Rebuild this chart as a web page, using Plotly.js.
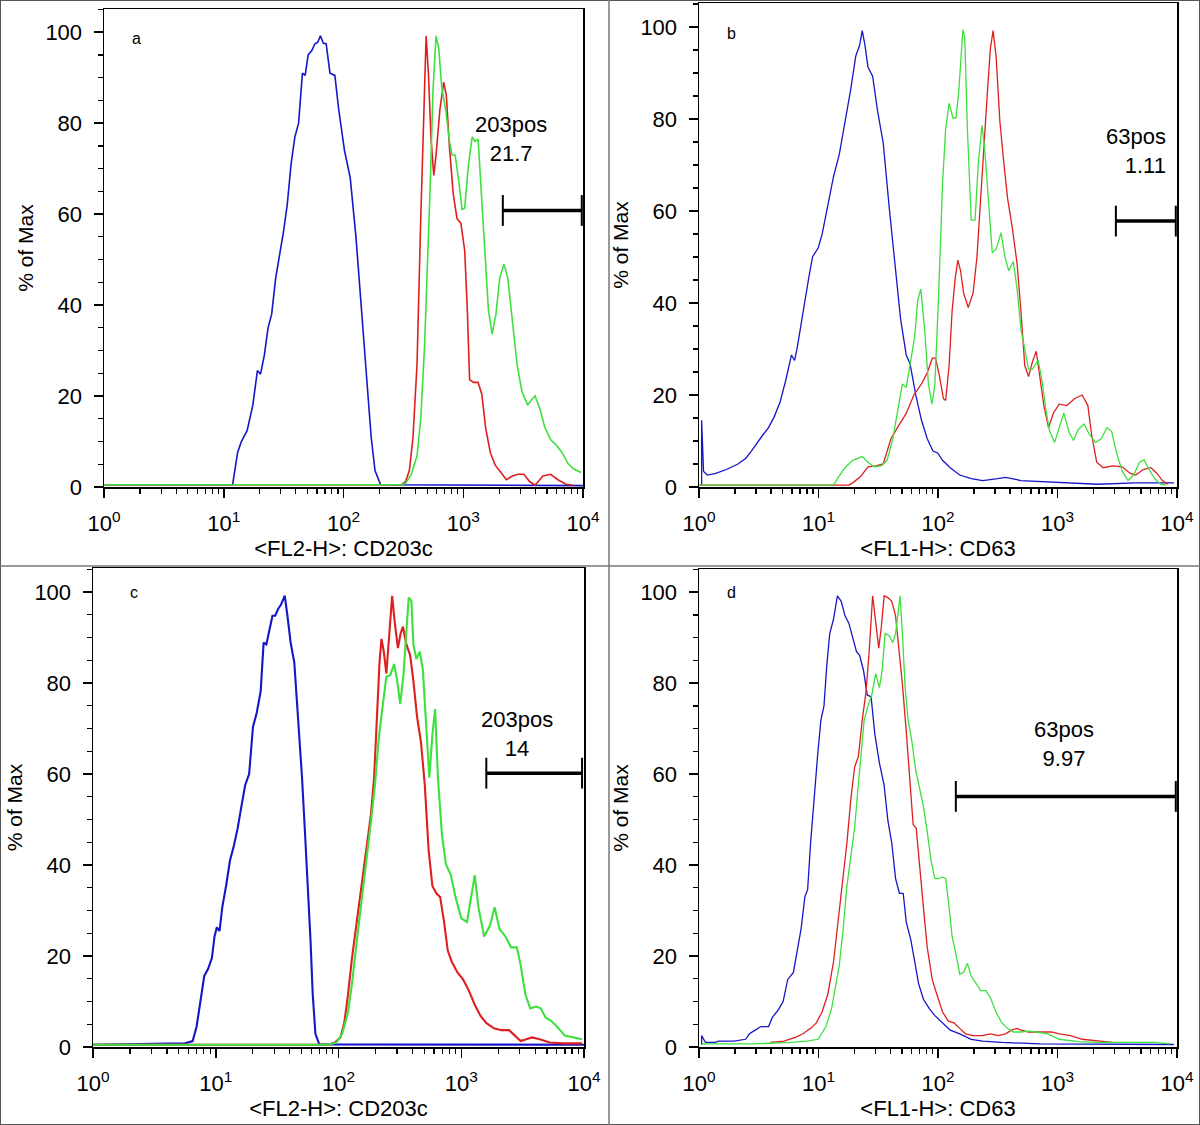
<!DOCTYPE html>
<html>
<head>
<meta charset="utf-8">
<script src="https://cdn.plot.ly/plotly-3.0.1.min.js"></script>
<style>html,body{margin:0;padding:0;background:#fff;}#chart{width:1200px;height:1125px;}</style>
</head>
<body>
<div id="chart"></div>
<script>
// x values are read as log10(fluorescence intensity); y values are % of Max
// ---- Panel a (CD203c) ----
const aBlueLog = [0, 1.074, 1.116, 1.147, 1.195, 1.243, 1.281, 1.307, 1.339, 1.37, 1.40, 1.434, 1.466, 1.498, 1.53, 1.562, 1.594, 1.625, 1.657, 1.68, 1.705, 1.737, 1.76, 1.785, 1.807, 1.833, 1.855, 1.887, 1.928, 1.96, 2.008, 2.056, 2.104, 2.151, 2.2, 2.231, 2.263, 2.31, 4];
const aBlueY = [0.5, 0.5, 7.6, 10, 12.4, 18, 25.6, 24.8, 29, 35, 38, 46, 51, 56, 62, 71, 77, 80, 91, 90.5, 95, 96, 97.4, 97.8, 99.2, 97.5, 97.5, 91, 90.5, 83, 74, 68, 55, 39, 21, 11, 3.6, 0.5, 0.3];
const aRedLog = [0, 2.486, 2.518, 2.55, 2.58, 2.614, 2.645, 2.67, 2.69, 2.709, 2.731, 2.754, 2.773, 2.805, 2.837, 2.859, 2.884, 2.916, 2.948, 2.98, 3.012, 3.034, 3.053, 3.085, 3.124, 3.155, 3.187, 3.226, 3.267, 3.315, 3.36, 3.41, 3.458, 3.506, 3.554, 3.6, 3.665, 3.73, 3.79, 3.857, 3.92];
const aRedY = [0.5, 0.5, 1.2, 3.6, 10.8, 27, 59, 83, 99.2, 91, 76.5, 68.5, 73, 83, 89, 86, 75, 64.5, 59, 58, 52, 39, 23.6, 23, 23, 20.4, 13, 7.6, 4.8, 3.2, 1.6, 2.4, 2.8, 2.8, 1.2, 0.4, 2.4, 2.8, 1.6, 0.6, 0.4];
const aGreenLog = [0, 2.486, 2.518, 2.566, 2.614, 2.645, 2.677, 2.70, 2.725, 2.747, 2.773, 2.795, 2.82, 2.853, 2.885, 2.907, 2.932, 2.964, 2.99, 3.012, 3.044, 3.075, 3.098, 3.124, 3.149, 3.178, 3.21, 3.241, 3.273, 3.305, 3.34, 3.372, 3.41, 3.449, 3.49, 3.538, 3.57, 3.6, 3.64, 3.68, 3.73, 3.777, 3.825, 3.873, 3.92, 3.984];
const aGreenY = [0.5, 0.5, 0.8, 2.8, 6.8, 15, 31, 47, 67, 87, 99.2, 96.5, 88, 83, 76, 73, 73, 67, 61, 61.3, 71, 77, 76, 76.5, 65, 51, 39, 33.6, 38, 46, 49, 46, 36.5, 27, 21, 18, 19.2, 20, 17.2, 13.2, 10.4, 9.2, 7.6, 5.2, 4, 3.2];

// ---- Panel b (CD63) ----
const bBlueLog = [0.022, 0.022, 0.038, 0.07, 0.134, 0.23, 0.326, 0.39, 0.438, 0.486, 0.534, 0.582, 0.63, 0.678, 0.726, 0.774, 0.8, 0.822, 0.87, 0.918, 0.95, 0.998, 1.03, 1.078, 1.126, 1.174, 1.222, 1.27, 1.312, 1.344, 1.366, 1.389, 1.414, 1.453, 1.494, 1.542, 1.59, 1.638, 1.686, 1.734, 1.766, 1.814, 1.862, 1.91, 1.958, 1.997, 2.038, 2.102, 2.182, 2.278, 2.374, 2.50, 2.566, 2.694, 3.014, 3.334, 3.654, 3.974];
const bBlueY = [0.5, 14.5, 3.4, 2.6, 2.9, 3.8, 5, 6.2, 7.8, 9.7, 11.3, 12.9, 15.3, 18.4, 23.2, 28.7, 27.5, 30.3, 38.2, 45.4, 50, 52, 54.9, 61.2, 67.5, 72.3, 79.4, 86.5, 93.7, 96, 99.2, 96, 91.3, 89.3, 81.8, 74.7, 61.2, 48.5, 36.7, 28.7, 26.8, 20, 14.5, 10.5, 7.8, 7.4, 5.8, 4.2, 2.6, 1.8, 1.4, 1.8, 2.1, 1.4, 1.0, 0.6, 0.9, 0.9];
const bRedLog = [0, 1.254, 1.286, 1.35, 1.414, 1.478, 1.542, 1.606, 1.67, 1.734, 1.798, 1.862, 1.91, 1.952, 1.98, 2.013, 2.045, 2.064, 2.093, 2.118, 2.144, 2.166, 2.189, 2.214, 2.253, 2.294, 2.326, 2.352, 2.384, 2.413, 2.438, 2.461, 2.486, 2.518, 2.55, 2.582, 2.621, 2.662, 2.694, 2.726, 2.758, 2.79, 2.822, 2.854, 2.886, 2.925, 2.966, 3.014, 3.078, 3.142, 3.206, 3.254, 3.286, 3.328, 3.382, 3.462, 3.542, 3.606, 3.654, 3.718, 3.782, 3.83, 3.878, 3.926];
const bRedY = [0.4, 0.4, 0.9, 2.2, 4.4, 4.6, 5, 10.5, 13.3, 16, 20, 22.4, 24.8, 28, 28, 24, 19.2, 18.8, 26.4, 38.2, 45.4, 49.3, 47, 42.2, 39, 42.2, 50, 61.2, 73.8, 85.7, 95.2, 99.2, 93.7, 79.4, 70.7, 62.8, 56.5, 48.5, 38.2, 26.4, 24, 27.2, 29.5, 24, 17.7, 12.9, 16.1, 18, 17.7, 19.2, 20, 17.7, 11.3, 5.4, 4.2, 4.6, 4.4, 3, 2.6, 3.8, 4.2, 3, 1.4, 0.6];
const bGreenLog = [0, 1.126, 1.158, 1.222, 1.286, 1.366, 1.414, 1.462, 1.526, 1.574, 1.622, 1.67, 1.702, 1.734, 1.766, 1.805, 1.83, 1.856, 1.888, 1.92, 1.949, 1.974, 2.006, 2.038, 2.064, 2.093, 2.125, 2.15, 2.173, 2.192, 2.208, 2.224, 2.246, 2.278, 2.31, 2.336, 2.368, 2.39, 2.422, 2.454, 2.486, 2.528, 2.56, 2.592, 2.63, 2.662, 2.694, 2.726, 2.758, 2.79, 2.838, 2.87, 2.902, 2.934, 2.976, 3.014, 3.053, 3.094, 3.133, 3.174, 3.222, 3.27, 3.318, 3.366, 3.414, 3.453, 3.494, 3.542, 3.59, 3.638, 3.686, 3.725, 3.766, 3.814, 3.862, 3.91];
const bGreenY = [0.4, 0.4, 1.8, 4.2, 5.8, 6.6, 5.4, 4.4, 4.6, 5.8, 10.5, 17.7, 22.4, 21.6, 26.4, 32.7, 40.6, 43, 34.3, 22.4, 18, 22.4, 42.2, 66, 77.8, 83.4, 80.2, 80.2, 85.7, 93.7, 99.4, 97.6, 77.8, 58, 58, 69.9, 78.6, 73.8, 62, 50.9, 51.7, 55.3, 50, 47, 49, 43, 34.3, 29.5, 25.6, 25.6, 27.6, 23.2, 16.9, 12.1, 9.7, 12.9, 16.1, 12.1, 10.1, 12.5, 13.7, 11.3, 9.7, 10.5, 12.9, 12.1, 7.4, 3.4, 1.4, 2.6, 5.4, 5.9, 3.8, 1.8, 0.6, 0.4];

// ---- Panel c (CD203c) ----
const cBlueLog = [0, 0.75, 0.812, 0.844, 0.875, 0.906, 0.938, 0.969, 0.99, 1.009, 1.031, 1.053, 1.084, 1.116, 1.147, 1.178, 1.209, 1.24, 1.272, 1.303, 1.334, 1.366, 1.39, 1.412, 1.437, 1.462, 1.484, 1.51, 1.531, 1.562, 1.584, 1.61, 1.64, 1.672, 1.703, 1.728, 1.75, 1.772, 1.79, 1.812, 1.844, 4];
const cBlueY = [0.5, 0.8, 1.3, 4.5, 10, 15.6, 17.2, 19.6, 24.3, 26.3, 25.5, 30.7, 35.4, 41, 44.2, 48, 52.9, 57.6, 60, 70.3, 73.5, 78.2, 88.9, 88.5, 91.6, 94.8, 94.8, 96.4, 97.2, 99.2, 94.8, 88.9, 84.5, 71.9, 59.2, 46.6, 35.4, 23.5, 11.6, 2.9, 0.55, 0.5];
const cRedLog = [0, 1.922, 1.97, 2.016, 2.047, 2.078, 2.11, 2.14, 2.172, 2.203, 2.234, 2.265, 2.29, 2.312, 2.334, 2.35, 2.369, 2.39, 2.412, 2.437, 2.459, 2.484, 2.506, 2.525, 2.553, 2.584, 2.61, 2.64, 2.672, 2.703, 2.734, 2.765, 2.797, 2.828, 2.86, 2.89, 2.922, 2.969, 3.016, 3.062, 3.11, 3.156, 3.203, 3.266, 3.328, 3.39, 3.437, 3.484, 3.53, 3.578, 3.64, 3.72, 3.83, 3.984];
const cRedY = [0.5, 0.5, 1, 2.1, 5.3, 11.6, 19.6, 25.9, 32.2, 39.4, 44.9, 51.3, 59.2, 73.5, 84.5, 89.7, 86.9, 82.1, 89.3, 99.2, 93.2, 87.7, 90.9, 92.4, 88.5, 86.1, 80.5, 72.6, 67, 57.6, 43.3, 35.4, 33.8, 33, 27.5, 21.2, 18.8, 16.4, 14.8, 12.4, 9.3, 6.9, 5.3, 4.1, 3.7, 3.7, 2.5, 1.3, 1.7, 2.1, 1.7, 1, 0.8, 0.8];
const cGreenLog = [0, 1.922, 1.984, 2.03, 2.078, 2.11, 2.14, 2.172, 2.203, 2.234, 2.265, 2.297, 2.328, 2.36, 2.39, 2.422, 2.453, 2.478, 2.503, 2.53, 2.553, 2.572, 2.594, 2.61, 2.634, 2.662, 2.687, 2.72, 2.74, 2.765, 2.787, 2.81, 2.843, 2.875, 2.915, 2.953, 3.0, 3.047, 3.084, 3.11, 3.14, 3.187, 3.234, 3.272, 3.312, 3.36, 3.406, 3.453, 3.484, 3.522, 3.562, 3.61, 3.647, 3.687, 3.734, 3.78, 3.843, 3.906, 3.984];
const cGreenY = [0.5, 0.5, 1, 2.9, 7.7, 14, 21.2, 28.3, 35.4, 43.3, 49.7, 57.6, 67.9, 75, 81.4, 81.8, 84.2, 80.5, 75.4, 82.1, 90.9, 98.8, 98, 88.5, 85.3, 86.9, 83, 68.7, 59.2, 68.7, 74.3, 59.2, 46.6, 40.2, 37.8, 33, 28.3, 27.5, 33.8, 37.8, 30.7, 24.3, 26.7, 30.7, 25.9, 24.3, 21.9, 21.9, 18, 11.6, 8.5, 8.9, 8.5, 6.5, 5.7, 4.5, 2.5, 2.1, 1.7];

// ---- Panel d (CD63) ----
const dBlueLog = [0.022, 0.022, 0.054, 0.134, 0.166, 0.294, 0.39, 0.422, 0.47, 0.518, 0.582, 0.614, 0.662, 0.704, 0.742, 0.79, 0.822, 0.854, 0.886, 0.909, 0.934, 0.966, 0.992, 1.02, 1.046, 1.069, 1.094, 1.126, 1.158, 1.19, 1.222, 1.254, 1.286, 1.318, 1.344, 1.376, 1.408, 1.44, 1.472, 1.51, 1.549, 1.581, 1.613, 1.645, 1.677, 1.709, 1.734, 1.773, 1.805, 1.837, 1.878, 1.926, 1.974, 2.038, 2.102, 2.182, 2.278, 2.374, 2.534, 2.854, 3.174, 3.654, 3.974];
const dBlueY = [0.5, 2.5, 1, 1, 1.3, 1.3, 1.7, 2.9, 3.7, 4.5, 4.5, 6.5, 8.1, 10, 14.8, 16.4, 21.2, 25.9, 33, 34.6, 44.9, 56, 63.9, 71.9, 75, 83.8, 90.9, 94.1, 99.2, 98, 94.8, 93.2, 90.1, 86.9, 86.1, 82.9, 77.4, 77, 68.7, 62.4, 57.6, 49.7, 44.9, 37, 33.8, 33.8, 27.5, 23.5, 18.8, 14, 10.5, 8.5, 6.9, 5.3, 3.7, 2.9, 1.7, 1.3, 1, 0.7, 0.7, 0.55, 0.55];
const dRedLog = [0.598, 0.71, 0.806, 0.87, 0.934, 0.982, 1.03, 1.078, 1.126, 1.165, 1.206, 1.238, 1.27, 1.302, 1.334, 1.366, 1.398, 1.424, 1.453, 1.478, 1.504, 1.526, 1.549, 1.581, 1.613, 1.645, 1.677, 1.702, 1.734, 1.766, 1.792, 1.818, 1.846, 1.878, 1.91, 1.952, 1.99, 2.038, 2.086, 2.134, 2.182, 2.23, 2.294, 2.374, 2.438, 2.502, 2.566, 2.614, 2.662, 2.694, 2.758, 2.854, 2.95, 3.014, 3.11, 3.206, 3.302, 3.398, 3.462];
const dRedY = [1, 1.3, 2.1, 2.9, 4.1, 5.3, 7.7, 11.6, 18.8, 27.5, 37, 44.9, 54.4, 61.5, 63.9, 71.9, 78.2, 86.9, 99.2, 93.2, 87.7, 92.4, 99.2, 98.8, 98, 94.8, 86.9, 79.8, 69.5, 57.6, 48.9, 48.1, 39.4, 30.7, 21.9, 14.8, 11.6, 7.7, 5.7, 5.3, 4.1, 2.9, 2.5, 2.5, 2.9, 2.5, 2.9, 3.7, 4.1, 3.7, 3.3, 3.3, 3.3, 2.9, 2.5, 1.7, 1.5, 1.2, 1.0];
const dGreenLog = [0.022, 0.454, 0.774, 0.902, 0.998, 1.062, 1.11, 1.142, 1.174, 1.206, 1.238, 1.27, 1.302, 1.325, 1.35, 1.382, 1.414, 1.446, 1.478, 1.51, 1.533, 1.558, 1.59, 1.622, 1.645, 1.664, 1.683, 1.702, 1.725, 1.75, 1.782, 1.814, 1.846, 1.878, 1.91, 1.942, 1.974, 2.006, 2.038, 2.064, 2.093, 2.118, 2.15, 2.182, 2.214, 2.246, 2.278, 2.317, 2.358, 2.4, 2.438, 2.486, 2.534, 2.582, 2.63, 2.694, 2.758, 2.822, 2.918, 3.014, 3.174, 3.334, 3.494, 3.654, 3.814, 3.942];
const dGreenY = [0.7, 0.7, 1, 1.3, 1.7, 4.5, 8.5, 13.2, 18, 25.9, 35.4, 41.8, 48.1, 55.2, 62.4, 71.9, 75, 77.4, 82.1, 79, 82.9, 90.9, 90.5, 88.9, 90.9, 95.6, 99.2, 90.9, 79, 71.9, 67.1, 60.8, 56.8, 52.9, 47.3, 41, 37, 37, 37.4, 37, 30.7, 24.3, 20.4, 16, 16.4, 18.4, 15.6, 14, 12.4, 12.4, 10.9, 7.7, 5.3, 4.1, 3.3, 3.3, 3.5, 3.3, 2.9, 1.7, 1.2, 1, 1, 1.1, 1, 0.7];

// ---- Gates (marker bars) ----
const panelIds = ['a', 'b', 'c', 'd'];
const gateStart = [2140, 3080, 1600, 141];
const gateEnd = [9770, 9770, 9640, 9770];
const gateY = [60.8, 57.8, 60.2, 55.1];
const gateName = ['203pos', '63pos', '203pos', '63pos'];
const gateValue = ['21.7', '1.11', '14', '9.97'];
const xTitles = ['<FL2-H>: CD203c', '<FL1-H>: CD63', '<FL2-H>: CD203c', '<FL1-H>: CD63'];
const yTitle = '% of Max';
const xTickVals = [1, 10, 100, 1000, 10000];
const xTickText = ['10<sup>0</sup>', '10<sup>1</sup>', '10<sup>2</sup>', '10<sup>3</sup>', '10<sup>4</sup>'];
const yTickVals = [0, 20, 40, 60, 80, 100];

const toLin = arr => arr.map(v => Math.pow(10, v));
const minorVals = [];
[1, 10, 100, 1000].forEach(d => { for (let m = 2; m <= 9; m++) minorVals.push(d * m); });

const BLUE = '#1616c8', RED = '#df1f1f', GREEN = '#3ee03e';
const series = [
  [[aBlueLog, aBlueY], [aRedLog, aRedY], [aGreenLog, aGreenY]],
  [[bBlueLog, bBlueY], [bRedLog, bRedY], [bGreenLog, bGreenY]],
  [[cBlueLog, cBlueY], [cRedLog, cRedY], [cGreenLog, cGreenY]],
  [[dBlueLog, dBlueY], [dRedLog, dRedY], [dGreenLog, dGreenY]]
];
const colors = [BLUE, RED, GREEN];
const lineW = [1.6, 1.3, 2.1, 1.3];

// panel geometry (pixels in 1200x1125 canvas): [left, right, top, bottom]
const W = 1200, H = 1125;
const boxes = [[104, 583, 9, 487], [699, 1177, 3, 487], [93, 584, 568, 1047], [699, 1177, 569, 1047]];
const yTop = [105.1, 105.2, 105.3, 105.1];

const traces = [];
const layout = {
  width: W, height: H, margin: {l: 0, r: 0, t: 0, b: 0},
  paper_bgcolor: '#fff', plot_bgcolor: '#fff', showlegend: false,
  font: {family: 'Liberation Sans, Arial, sans-serif', color: '#000'},
  annotations: [], shapes: []
};

boxes.forEach((bx, i) => {
  const n = i === 0 ? '' : String(i + 1);
  const xa = 'x' + n, ya = 'y' + n;
  series[i].forEach((s, k) => {
    traces.push({x: toLin(s[0]), y: s[1], xaxis: xa, yaxis: ya, type: 'scatter', mode: 'lines',
      line: {color: colors[k], width: lineW[i]}, hoverinfo: 'skip'});
  });
  // gate bar
  traces.push({x: [gateStart[i], gateEnd[i]], y: [gateY[i], gateY[i]], xaxis: xa, yaxis: ya, type: 'scatter',
    mode: 'lines+markers', line: {color: '#000', width: 3.5},
    marker: {symbol: 'line-ns', size: 22, line: {color: '#000', width: 2}}, hoverinfo: 'skip', cliponaxis: false});

  layout['xaxis' + n] = {
    type: 'log', range: [0, 4], domain: [bx[0] / W, bx[1] / W], anchor: ya,
    showline: true, linecolor: '#000', linewidth: 1.5, mirror: true, showgrid: false, zeroline: false,
    tickmode: 'array', tickvals: xTickVals, ticktext: xTickText, ticks: 'outside', ticklen: 9, tickwidth: 1.5, tickcolor: '#000',
    tickfont: {size: 22, color: '#000'}, ticklabelstandoff: 7,
    minor: {tickmode: 'array', tickvals: minorVals, ticks: 'outside', ticklen: 5, tickwidth: 1.2, tickcolor: '#000', showgrid: false},
    title: {text: xTitles[i], font: {size: 22, color: '#000'}, standoff: 3}
  };
  layout['yaxis' + n] = {
    range: [0, yTop[i]], domain: [1 - bx[3] / H, 1 - bx[2] / H], anchor: xa,
    showline: true, linecolor: '#000', linewidth: 1.5, mirror: true, showgrid: false, zeroline: false,
    tickmode: 'array', tickvals: yTickVals, ticks: 'outside', ticklen: 9, tickwidth: 1.5, tickcolor: '#000',
    tickfont: {size: 22, color: '#000'}, ticklabelstandoff: 7,
    minor: {dtick: 5, ticks: 'outside', ticklen: 5, tickwidth: 1.2, tickcolor: '#000', showgrid: false},
    title: {text: yTitle, font: {size: 21, color: '#000'}, standoff: 6}
  };
  // panel letter
  layout.annotations.push({text: panelIds[i], xref: xa + ' domain', yref: ya + ' domain',
    x: [0.067, 0.067, 0.0835, 0.067][i], y: [0.939, 0.936, 0.948, 0.95][i], showarrow: false,
    font: {size: 16, color: '#000'}, xanchor: 'center', yanchor: 'middle'});
  // gate label
  const right = i === 1;
  layout.annotations.push({text: gateName[i] + '<br>' + gateValue[i], xref: xa + ' domain', yref: ya + ' domain',
    x: [0.85, 0.981, 0.8635, 0.764][i], y: [0.728, 0.694, 0.653, 0.634][i], showarrow: false,
    align: right ? 'right' : 'center', xanchor: right ? 'right' : 'center', yanchor: 'middle',
    font: {size: 22, color: '#000'}});
});

// outer frame and panel dividers
layout.shapes.push({type: 'rect', xref: 'paper', yref: 'paper', x0: 0, x1: 1, y0: 0, y1: 1, line: {color: '#555', width: 2}});
layout.shapes.push({type: 'line', xref: 'paper', yref: 'paper', x0: 609 / W, x1: 609 / W, y0: 0, y1: 1, line: {color: '#777', width: 1.5}});
layout.shapes.push({type: 'line', xref: 'paper', yref: 'paper', x0: 0, x1: 1, y0: 1 - 566 / H, y1: 1 - 566 / H, line: {color: '#777', width: 1.5}});

Plotly.newPlot('chart', traces, layout, {staticPlot: true});
</script>
</body>
</html>
